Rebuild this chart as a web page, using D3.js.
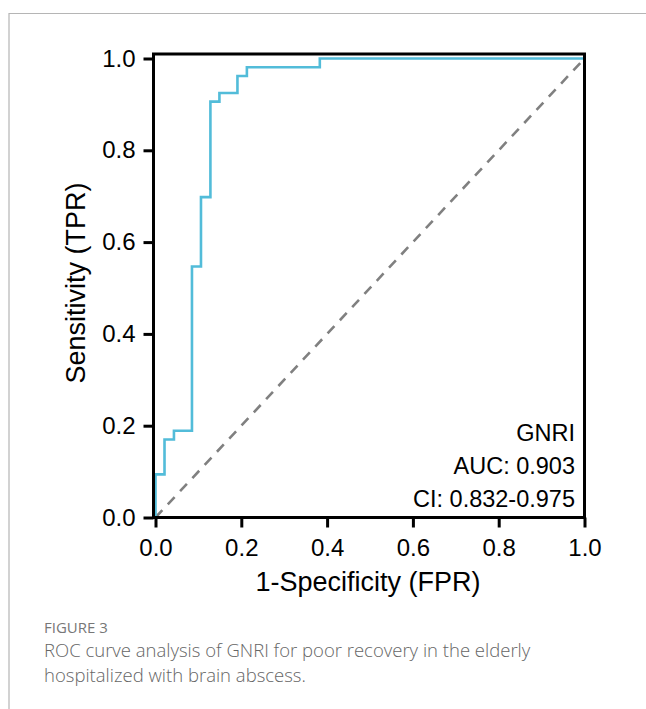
<!DOCTYPE html>
<html>
<head>
<meta charset="utf-8">
<script src="https://cdn.jsdelivr.net/npm/d3@7"></script>
<style>
  body { margin: 0; background: #fff; }
  svg { display: block; }
  .tick text { font-family: "Liberation Sans", Arial, sans-serif; }
</style>
</head>
<body>
<div id="chart"></div>
<script>
// ROC curve corner points, drawn with step-after
const fpr = [0, 0, 0.021, 0.043, 0.085, 0.106, 0.128, 0.149, 0.191, 0.213, 0.383, 1];
const tpr = [0, 0.094, 0.170, 0.189, 0.547, 0.698, 0.906, 0.925, 0.962, 0.981, 1, 1];
const tickValues = [0, 0.2, 0.4, 0.6, 0.8, 1.0];
const legendLines = ['GNRI', 'AUC: 0.903', 'CI: 0.832-0.975'];
const captionTitle = 'FIGURE 3';
const captionLines = [
    'ROC curve analysis of GNRI for poor recovery in the elderly',
    'hospitalized with brain abscess.'
];

const W = 646, H = 709;
const x0 = 155.5, x1 = 584.5, yTop = 58.5, yBot = 517.5;
const font = '"Liberation Sans", Arial, sans-serif';

const svg = d3.select('#chart').append('svg')
    .attr('width', W)
    .attr('height', H);

// page frame (top + left rule)
svg.append('path')
    .attr('d', `M9,${H} V13.5 H${W}`)
    .attr('fill', 'none')
    .attr('stroke', '#b5b5b5')
    .attr('stroke-width', 1.2);

const xScale = d3.scaleLinear().domain([0, 1]).range([x0, x1]);
const yScale = d3.scaleLinear().domain([0, 1]).range([yBot, yTop]);

// diagonal reference
svg.append('line')
    .attr('x1', xScale(0)).attr('y1', yScale(0))
    .attr('x2', xScale(1)).attr('y2', yScale(1))
    .attr('stroke', '#808080')
    .attr('stroke-width', 2.6)
    .attr('stroke-dasharray', '10,8');

// ROC curve
const points = fpr.map((f, i) => [f, tpr[i]]);
const line = d3.line()
    .x(d => xScale(d[0]))
    .y(d => yScale(d[1]))
    .curve(d3.curveStepAfter);

svg.append('path')
    .datum(points)
    .attr('d', line)
    .attr('fill', 'none')
    .attr('stroke', '#52BCD9')
    .attr('stroke-width', 2.6);

// box
svg.append('rect')
    .attr('x', x0 - 2)
    .attr('y', yTop - 4.5)
    .attr('width', x1 - x0 + 2)
    .attr('height', yBot - yTop + 4.5)
    .attr('fill', 'none')
    .attr('stroke', '#000')
    .attr('stroke-width', 3);

// axes
const xAxis = svg.append('g')
    .attr('transform', `translate(0,${yBot})`)
    .call(d3.axisBottom(xScale)
        .tickValues(tickValues)
        .tickFormat(d3.format('.1f'))
        .tickSize(10)
        .tickPadding(11)
        .tickSizeOuter(0));

const yAxis = svg.append('g')
    .attr('transform', `translate(${x0 - 2},0)`)
    .call(d3.axisLeft(yScale)
        .tickValues(tickValues)
        .tickFormat(d3.format('.1f'))
        .tickSize(10)
        .tickPadding(8)
        .tickSizeOuter(0));

[xAxis, yAxis].forEach(g => {
    g.select('.domain').remove();
    g.selectAll('.tick line').attr('stroke', '#000').attr('stroke-width', 3);
    g.selectAll('.tick text')
        .style('font-size', '24px')
        .attr('fill', '#000');
});

// axis titles
svg.append('text')
    .attr('x', (x0 + x1) / 2 - 2)
    .attr('y', 591)
    .attr('text-anchor', 'middle')
    .style('font-family', font)
    .style('font-size', '27px')
    .attr('fill', '#000')
    .text('1-Specificity (FPR)');

svg.append('text')
    .attr('transform', `translate(85,${(yTop + yBot) / 2 - 5}) rotate(-90)`)
    .attr('text-anchor', 'middle')
    .style('font-family', font)
    .style('font-size', '27px')
    .attr('fill', '#000')
    .text('Sensitivity (TPR)');

// annotation
svg.selectAll('.legend-line')
    .data(legendLines)
    .enter()
    .append('text')
    .attr('class', 'legend-line')
    .attr('x', 575)
    .attr('y', (d, i) => 441 + i * 33)
    .attr('text-anchor', 'end')
    .style('font-family', font)
    .style('font-size', '23.5px')
    .attr('fill', '#000')
    .text(d => d);

// caption
svg.append('text')
    .attr('x', 44)
    .attr('y', 633)
    .style('font-family', '"Open Sans", sans-serif')
    .style('font-size', '15px')
    .attr('fill', '#777')
    .text(captionTitle);

svg.selectAll('.caption-line')
    .data(captionLines)
    .enter()
    .append('text')
    .attr('class', 'caption-line')
    .attr('x', 44)
    .attr('y', (d, i) => 657 + i * 25)
    .style('font-family', '"Open Sans", sans-serif')
    .style('font-size', '18.5px')
    .style('font-weight', 300)
    .attr('fill', '#666')
    .text(d => d);
</script>
</body>
</html>
